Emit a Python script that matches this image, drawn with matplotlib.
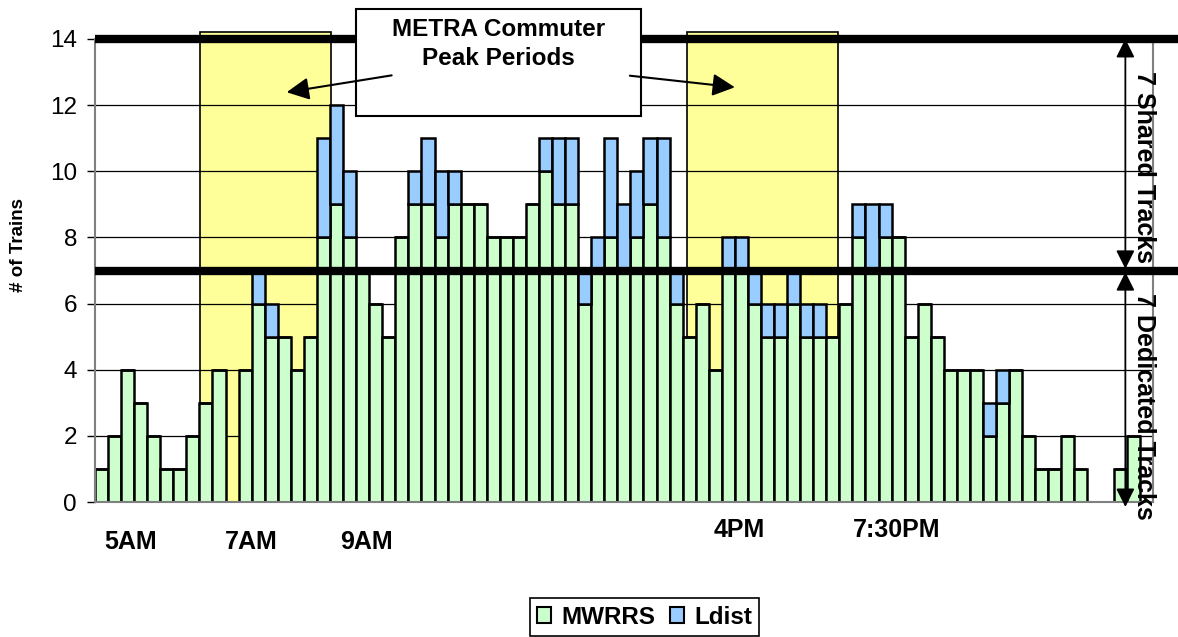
import matplotlib.pyplot as plt
from matplotlib.patches import Rectangle, Patch
import numpy as np

plt.rcParams['font.family'] = ['Liberation Sans', 'DejaVu Sans']

# trains per time slot (81 slots, 5AM .. late evening)
mwrrs = [1, 2, 4, 3, 2, 1, 1, 2, 3, 4, 0, 4, 6, 5, 5, 4, 5, 8, 9, 8,
         7, 6, 5, 8, 9, 9, 8, 9, 9, 9, 8, 8, 8, 9, 10, 9, 9, 6, 7, 8,
         7, 8, 9, 8, 6, 5, 6, 4, 7, 7, 6, 5, 5, 6, 5, 5, 5, 6, 8, 7,
         8, 8, 5, 6, 5, 4, 4, 4, 2, 3, 4, 2, 1, 1, 2, 1, 0, 0, 1, 2, 0]
ldist = [0, 0, 0, 0, 0, 0, 0, 0, 0, 0, 0, 0, 1, 1, 0, 0, 0, 3, 3, 2,
         0, 0, 0, 0, 1, 2, 2, 1, 0, 0, 0, 0, 0, 0, 1, 2, 2, 1, 1, 3,
         2, 2, 2, 3, 1, 0, 0, 0, 1, 1, 1, 1, 1, 1, 1, 1, 0, 0, 1, 2,
         1, 0, 0, 0, 0, 0, 0, 0, 1, 1, 0, 0, 0, 0, 0, 0, 0, 0, 0, 0, 0]

time_labels = ['5AM', '7AM', '9AM', '4PM', '7:30PM']
time_pos = [2.2, 11.5, 20.3, 48.8, 60.9]
time_y = [-1.2, -1.2, -1.2, -0.85, -0.85]

peaks = [(7.54, 17.55), (44.8, 56.4)]

green = '#CCFFCC'
blue = '#99CCFF'
yellow = '#FFFF99'

fig = plt.figure(figsize=(11.78, 6.37), dpi=100)
ax = fig.add_axes([0.0806, 0.2119, 0.898, 0.7269])

x = np.arange(len(mwrrs))
ax.bar(x, mwrrs, width=1.0, color=green, edgecolor='black', linewidth=1.8, zorder=2)
ax.bar(x, ldist, width=1.0, bottom=mwrrs, color=blue, edgecolor='black', linewidth=1.8, zorder=2)

# commuter peak shading
for a, b in peaks:
    ax.add_patch(Rectangle((a, 0), b - a, 14.2, facecolor=yellow, edgecolor='black',
                           linewidth=1.2, zorder=0.3, clip_on=False))

ax.set_xlim(-0.5, 80.5)
ax.set_ylim(0, 14)
ax.set_yticks(range(0, 15, 2))
ax.set_xticks([])
ax.yaxis.grid(True, color='black', linewidth=0.9, zorder=0.5)
ax.set_axisbelow(True)
ax.tick_params(axis='y', labelsize=17.5, length=6, width=1, pad=7)
for s in ax.spines.values():
    s.set_color('#808080')
    s.set_linewidth(1.5)
ax.spines['top'].set_visible(False)

# shared / dedicated track limits
for yv in (14, 7):
    ax.plot([-0.5, 82.6], [yv, yv], color='black', linewidth=6, zorder=3,
            clip_on=False, solid_capstyle='butt')

ax.annotate('', xy=(78.4, 14), xytext=(78.4, 7.05),
            arrowprops=dict(arrowstyle='<|-|>', color='black', lw=1.3,
                            mutation_scale=28, shrinkA=0, shrinkB=0),
            annotation_clip=False, zorder=4)
ax.annotate('', xy=(78.4, 6.95), xytext=(78.4, -0.15),
            arrowprops=dict(arrowstyle='<|-|>', color='black', lw=1.3,
                            mutation_scale=28, shrinkA=0, shrinkB=0),
            annotation_clip=False, zorder=4)
ax.text(79.8, 10.13, '7 Shared Tracks', rotation=-90, ha='center', va='center',
        fontsize=18, fontweight='bold', zorder=5, clip_on=False)
ax.text(79.8, 2.9, '7 Dedicated Tracks', rotation=-90, ha='center', va='center',
        fontsize=18, fontweight='bold', zorder=5, clip_on=False)

# callout box
ax.add_patch(Rectangle((19.46, 11.67), 41.28 - 19.46, 14.9 - 11.67, facecolor='white',
                       edgecolor='black', linewidth=1.5, zorder=6, clip_on=False))
ax.text(30.4, 13.85, 'METRA Commuter\nPeak Periods', ha='center', va='center',
        fontsize=17.5, fontweight='bold', linespacing=1.35, zorder=7)
ax.annotate('', xy=(14.18, 12.39), xytext=(22.22, 12.9),
            arrowprops=dict(arrowstyle='-|>', color='black', lw=1.5,
                            mutation_scale=34, shrinkA=0, shrinkB=0), zorder=7)
ax.annotate('', xy=(48.5, 12.54), xytext=(40.46, 12.89),
            arrowprops=dict(arrowstyle='-|>', color='black', lw=1.5,
                            mutation_scale=34, shrinkA=0, shrinkB=0), zorder=7)

for lab, px, py in zip(time_labels, time_pos, time_y):
    ax.text(px, py, lab, ha='center', va='center', fontsize=18, fontweight='bold',
            clip_on=False)

fig.text(0.0153, 0.615, '# of Trains', rotation=90, ha='center', va='center',
         fontsize=13.5, fontweight='bold')

handles = [Patch(facecolor=green, edgecolor='black', linewidth=1.5, label='MWRRS'),
           Patch(facecolor=blue, edgecolor='black', linewidth=1.5, label='Ldist')]
leg = fig.legend(handles=handles, loc='center', bbox_to_anchor=(0.547, 0.031), ncol=2,
                 fancybox=False, edgecolor='black', prop={'size': 17.5, 'weight': 'bold'},
                 handlelength=0.6, handleheight=0.6, handletextpad=0.4,
                 columnspacing=0.6, borderpad=0.3, framealpha=1)
leg.get_frame().set_linewidth(1.2)

fig.savefig('out.png', dpi=100)
